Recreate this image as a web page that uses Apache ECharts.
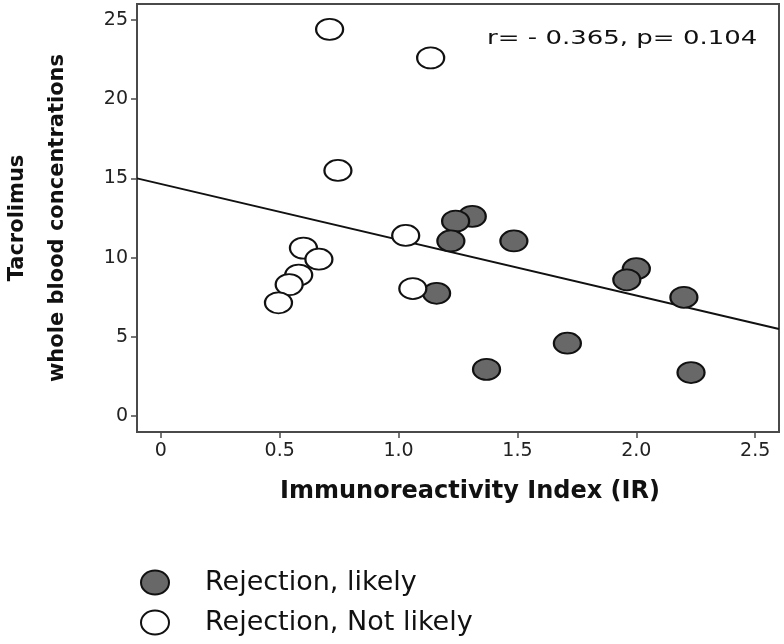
<!DOCTYPE html>
<html>
<head>
<meta charset="utf-8">
<script src="https://cdn.jsdelivr.net/npm/echarts@6/dist/echarts.min.js"></script>
<style>
html,body{margin:0;padding:0;background:#fff;}
#chart{width:784px;height:644px;}
</style>
</head>
<body>
<div id="chart"></div>
<script>
// Rejection, likely (filled)
var likelyX = [1.31, 1.24, 1.22, 1.485, 2.00, 1.96, 1.16, 2.20, 1.71, 1.37, 2.23];
var likelyY = [12.6, 12.3, 11.05, 11.05, 9.3, 8.6, 7.75, 7.5, 4.6, 2.95, 2.75];
// Rejection, Not likely (open)
var notLikelyX = [0.71, 1.135, 0.745, 1.03, 0.60, 0.665, 0.58, 0.54, 0.495, 1.06];
var notLikelyY = [24.4, 22.6, 15.5, 11.4, 10.6, 9.9, 8.9, 8.3, 7.15, 8.05];
// fitted regression line endpoints
var fitX = [-0.1, 2.6];
var fitY = [15.0, 5.5];
var xTicks = [0, 0.5, 1.0, 1.5, 2.0, 2.5];
var yTicks = [0, 5, 10, 15, 20, 25];
var seriesNames = ['Rejection, likely', 'Rejection, Not likely'];
var annotation = 'r= - 0.365, p= 0.104';
var xTitle = 'Immunoreactivity Index (IR)';
var yTitle = 'Tacrolimus\nwhole blood concentrations';

function pairs(xs, ys) { return xs.map(function (x, i) { return [x, ys[i]]; }); }

var ellipse = 'path://M0,12 A14,12 0 1,1 28,12 A14,12 0 1,1 0,12 Z';
var frameColor = '#4a4a4a';

var chart = echarts.init(document.getElementById('chart'), null, { renderer: 'canvas' });
chart.setOption({
  animation: false,
  backgroundColor: '#fff',
  grid: { left: 137, right: 5, top: 4, bottom: 212, outerBoundsMode: 'none', containLabel: false, show: true, borderColor: frameColor, borderWidth: 2, backgroundColor: 'transparent' },
  xAxis: {
    type: 'value', min: -0.1, max: 2.6,
    splitLine: { show: false },
    axisLine: { show: true, onZero: false, lineStyle: { color: frameColor, width: 2 } },
    axisTick: { show: true, length: 6, customValues: xTicks, lineStyle: { color: frameColor, width: 1.5 } },
    axisLabel: {
      customValues: xTicks, margin: 10, color: '#222',
      fontFamily: 'DejaVu Sans', fontSize: 19,
      formatter: function (v) { return v === 0 ? '0' : v.toFixed(1); }
    },
    name: xTitle, nameLocation: 'middle', nameGap: 48,
    nameTextStyle: { fontFamily: 'DejaVu Sans', fontWeight: 'bold', fontSize: 24, color: '#111', padding: [0, 0, 0, 24] }
  },
  yAxis: {
    type: 'value', min: -1, max: 26,
    splitLine: { show: false },
    axisLine: { show: true, onZero: false, lineStyle: { color: frameColor, width: 2 } },
    axisTick: { show: true, length: 6, customValues: yTicks, lineStyle: { color: frameColor, width: 1.5 } },
    axisLabel: { customValues: yTicks, margin: 9, color: '#222', fontFamily: 'DejaVu Sans', fontSize: 19 },
    name: yTitle, nameLocation: 'middle', nameGap: 59, nameRotate: 90,
    nameTextStyle: { fontFamily: 'DejaVu Sans', fontWeight: 'bold', fontSize: 21, lineHeight: 40, color: '#111', align: 'center' }
  },
  legend: {
    orient: 'vertical', left: 135, top: 564, itemGap: 13,
    itemWidth: 28, itemHeight: 24,
    data: [
      { name: seriesNames[0], icon: ellipse },
      { name: seriesNames[1], icon: ellipse }
    ],
    textStyle: { fontFamily: 'DejaVu Sans', fontSize: 27, color: '#111', padding: [0, 0, 0, 31] }
  },
  graphic: [{
    type: 'text', left: 487, top: 29, scaleX: 1.3,
    style: { text: annotation, font: '20px "DejaVu Sans"', fill: '#111' }
  }],
  series: [
    {
      type: 'line', data: pairs(fitX, fitY), symbol: 'none', silent: true, z: 1,
      lineStyle: { color: '#111', width: 2 }
    },
    {
      name: seriesNames[0], type: 'scatter', z: 3,
      symbol: ellipse, symbolSize: [27, 21],
      itemStyle: { color: '#686868', borderColor: '#111', borderWidth: 2, opacity: 1 },
      data: pairs(likelyX, likelyY)
    },
    {
      name: seriesNames[1], type: 'scatter', z: 3,
      symbol: ellipse, symbolSize: [27, 21],
      itemStyle: { color: '#ffffff', borderColor: '#111', borderWidth: 2, opacity: 1 },
      data: pairs(notLikelyX, notLikelyY)
    }
  ]
});
</script>
</body>
</html>
